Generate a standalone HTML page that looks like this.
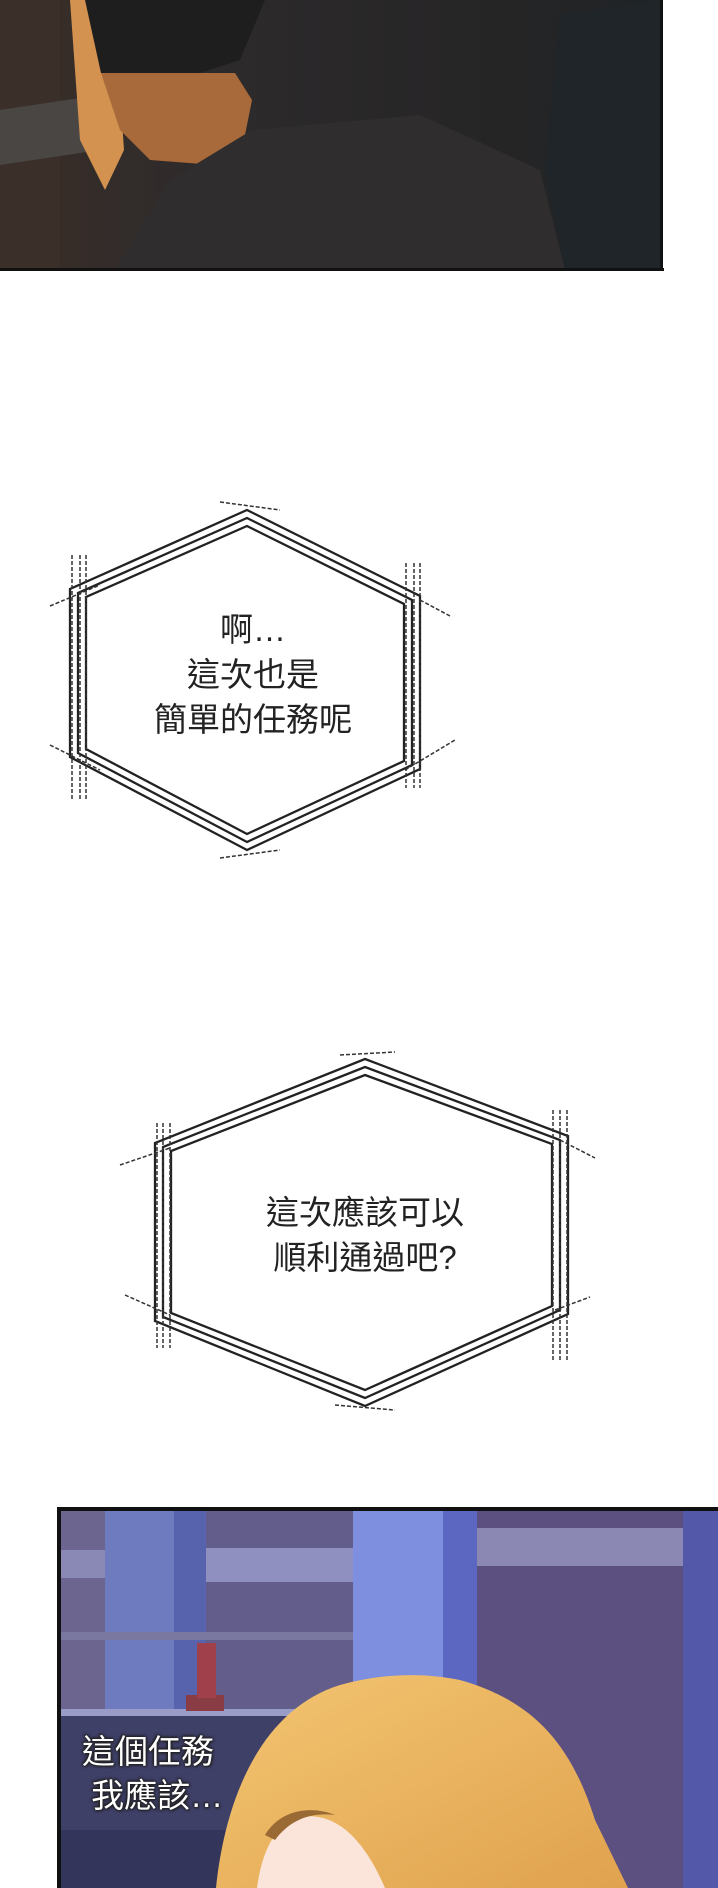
<!DOCTYPE html>
<html><head><meta charset="utf-8"><style>
html,body{margin:0;padding:0;background:#fff;}
body{width:718px;height:1888px;position:relative;overflow:hidden;font-family:"Liberation Sans","Noto Sans CJK TC",sans-serif;}
.t{position:absolute;text-align:center;color:#222;font-size:33px;line-height:45px;}
</style></head><body>
<svg width="718" height="1888" style="position:absolute;left:0;top:0">
<defs>
<linearGradient id="g1" x1="0" y1="0" x2="1" y2="0"><stop offset="0" stop-color="#3a2e28"/><stop offset=".35" stop-color="#2c2a2b"/><stop offset=".75" stop-color="#262526"/><stop offset="1" stop-color="#1f2427"/></linearGradient>
<linearGradient id="hair" x1="0" y1="0" x2="1" y2="1"><stop offset="0" stop-color="#f3c571"/><stop offset="1" stop-color="#e0a24e"/></linearGradient>
</defs>
<rect x="0" y="0" width="662" height="270" fill="url(#g1)"/>
<path d="M0 0 L60 0 L60 270 L0 270Z" fill="#3a3029"/>
<path d="M0 110 L100 95 L100 150 L0 165Z" fill="#4a4644"/>
<path d="M46 0 L70 0 L80 140 L105 190 L124 150 L118 60 L100 0Z" fill="#d3924f"/>
<path d="M101 73 L235 73 L252 100 L245 135 L215 165 L150 160 L120 130Z" fill="#a86a3a"/>
<path d="M85 0 L265 0 L240 60 L200 73 L101 73Z" fill="#1f1e1f"/>
<path d="M115 270 L170 180 L252 130 L420 115 L540 170 L565 270Z" fill="#2f2d2e"/>
<path d="M560 15 L662 0 L662 270 L565 270 L545 170Z" fill="#1f2528"/>
<rect x="0" y="268" width="664" height="3" fill="#111"/>
<rect x="660" y="0" width="3" height="271" fill="#111"/>
<g fill="none" stroke="#222" stroke-width="2.3">
<polygon points="247,518 412,600 412,765 247,842 78,753 78,593"/>
<polygon points="247,526 404,604 404,761 247,834 86,749 86,597"/>
<polygon points="247,510 420,596 420,769 247,850 70,757 70,589"/>
</g>
<g fill="none" stroke="#333" stroke-width="1.5" stroke-dasharray="4,2">
<line x1="72" y1="555" x2="72" y2="800"/><line x1="80" y1="555" x2="80" y2="800"/><line x1="86" y1="555" x2="86" y2="800"/>
<line x1="406" y1="563" x2="406" y2="788"/><line x1="414" y1="563" x2="414" y2="788"/><line x1="420" y1="563" x2="420" y2="788"/>
<line x1="50" y1="606" x2="100" y2="585"/><line x1="420" y1="600" x2="450" y2="616"/>
<line x1="220" y1="502" x2="280" y2="510"/><line x1="220" y1="858" x2="280" y2="850"/>
<line x1="50" y1="745" x2="100" y2="770"/><line x1="405" y1="770" x2="455" y2="740"/>
</g>
<g fill="none" stroke="#222" stroke-width="2.3">
<polygon points="365,1067 560,1140 560,1310 365,1398 163,1317 163,1147"/>
<polygon points="365,1075 552,1144 552,1306 365,1390 171,1313 171,1151"/>
<polygon points="365,1059 568,1136 568,1314 365,1406 155,1321 155,1143"/>
</g>
<g fill="none" stroke="#333" stroke-width="1.5" stroke-dasharray="4,2">
<line x1="157" y1="1123" x2="157" y2="1348"/><line x1="163" y1="1123" x2="163" y2="1348"/><line x1="170" y1="1123" x2="170" y2="1348"/>
<line x1="553" y1="1110" x2="553" y2="1360"/><line x1="560" y1="1110" x2="560" y2="1360"/><line x1="567" y1="1110" x2="567" y2="1360"/>
<line x1="120" y1="1165" x2="170" y2="1148"/><line x1="560" y1="1140" x2="595" y2="1158"/>
<line x1="340" y1="1055" x2="395" y2="1052"/><line x1="335" y1="1405" x2="395" y2="1410"/>
<line x1="125" y1="1295" x2="170" y2="1315"/><line x1="555" y1="1310" x2="590" y2="1297"/>
</g>
<!-- bottom panel -->
<rect x="57" y="1507" width="661" height="381" fill="#5a5682"/>
<rect x="57" y="1510" width="48" height="200" fill="#6b6590"/>
<rect x="105" y="1510" width="69" height="202" fill="#6e7cbf"/>
<rect x="174" y="1510" width="32" height="202" fill="#5763ad"/>
<rect x="206" y="1510" width="147" height="200" fill="#625d8a"/>
<rect x="206" y="1548" width="147" height="34" fill="#9090c0"/>
<rect x="57" y="1550" width="48" height="28" fill="#8a88b4"/>
<rect x="353" y="1510" width="90" height="260" fill="#7e8fe0"/>
<rect x="443" y="1510" width="34" height="260" fill="#5b67c0"/>
<rect x="477" y="1510" width="206" height="378" fill="#5c5080"/>
<rect x="477" y="1528" width="206" height="38" fill="#8c88b4"/>
<rect x="683" y="1510" width="35" height="378" fill="#5358a8"/>
<rect x="57" y="1632" width="296" height="8" fill="#7a78a0"/>
<rect x="57" y="1709" width="260" height="7" fill="#9a9cc8"/>
<rect x="57" y="1716" width="240" height="172" fill="#3f4068"/>
<rect x="57" y="1830" width="180" height="58" fill="#34355a"/>
<rect x="186" y="1695" width="38" height="16" fill="#8a3c44"/>
<rect x="197" y="1643" width="19" height="55" fill="#a0404a"/>
<path d="M216 1888 C225 1800 260 1710 340 1685 C380 1674 420 1672 460 1680 C530 1700 570 1740 595 1820 L628 1888Z" fill="url(#hair)"/>
<path d="M257 1888 C262 1850 275 1825 300 1817 C330 1812 360 1830 385 1888Z" fill="#fbe5da"/>
<path d="M265 1835 C280 1810 310 1805 335 1815 C310 1812 290 1820 275 1840Z" fill="#9a6a35"/>
<rect x="57" y="1507" width="661" height="4" fill="#111"/>
<rect x="57" y="1507" width="4" height="381" fill="#111"/>
</svg>
<div class="t" style="left:140px;top:607px;width:226px;">啊…<br>這次也是<br>簡單的任務呢</div>
<div class="t" style="left:255px;top:1190px;width:220px;">這次應該可以<br>順利通過吧?</div>
<div style="position:absolute;left:82px;top:1730px;width:160px;font-size:33px;line-height:44px;color:#fff;text-shadow:0 0 2px #222,1px 1px 2px #222,-1px -1px 2px #222,0 0 4px #222;">這個任務<br>&nbsp;我應該…</div>
</body></html>
